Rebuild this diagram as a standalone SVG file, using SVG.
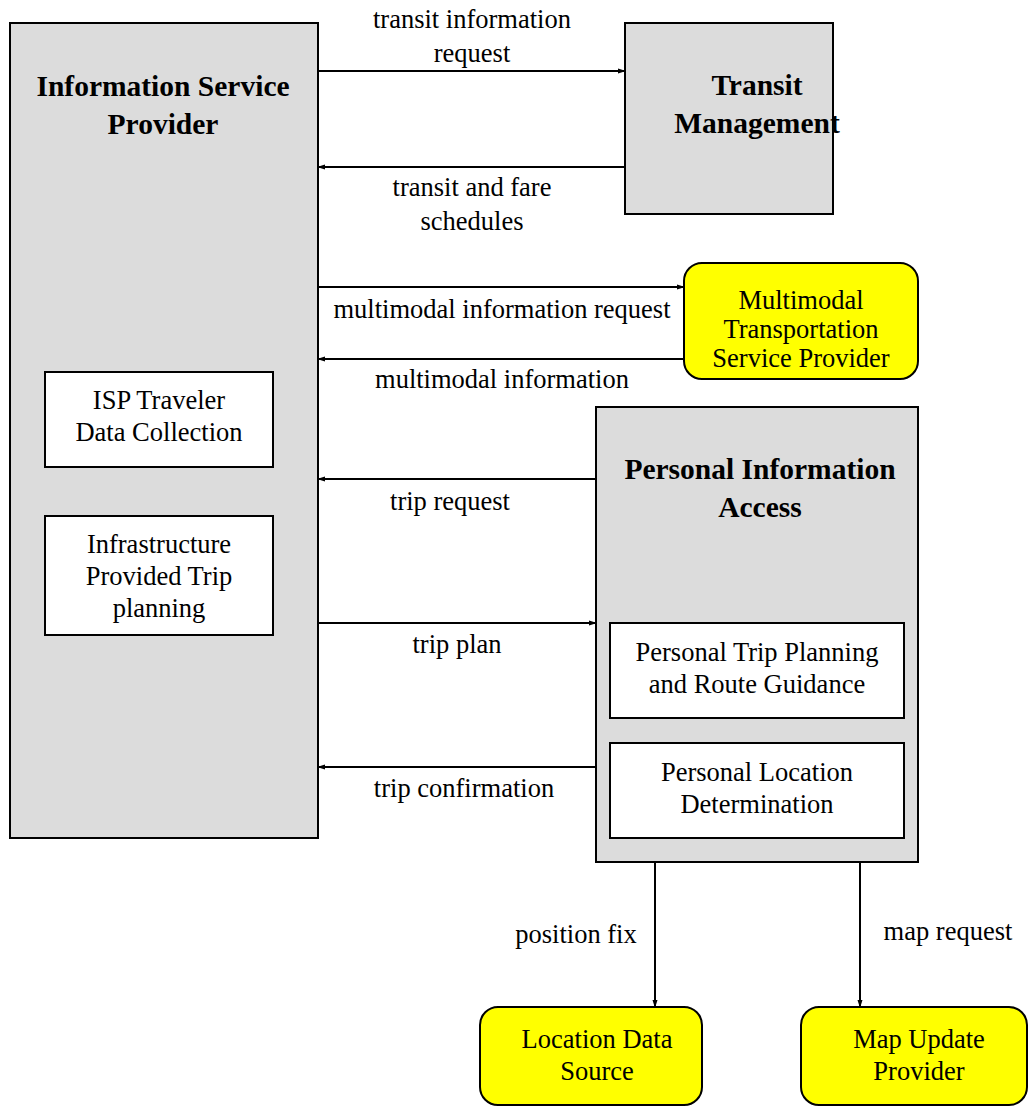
<svg xmlns="http://www.w3.org/2000/svg" width="1029" height="1107" viewBox="0 0 1029 1107">
<style>
.g{fill:#dcdcdc;stroke:#000;stroke-width:2}
.w{fill:#fff;stroke:#000;stroke-width:2}
.y{fill:#ffff00;stroke:#000;stroke-width:2}
text{font-family:"Liberation Serif","Times New Roman",serif;font-size:26.5px;fill:#000;text-anchor:middle}
.b{font-weight:bold;font-size:29.5px}
.c{stroke:#000;stroke-width:2;fill:none;marker-end:url(#ah)}
</style>
<defs>
<marker id="ah" markerWidth="8" markerHeight="6" refX="7" refY="3" orient="auto" markerUnits="userSpaceOnUse">
<path d="M0,0.5 L8,3 L0,5.5 Z" fill="#000"/>
</marker>
</defs>
<rect width="1029" height="1107" fill="#fff"/>
<g id="isp">
<rect class="g" x="10" y="23" width="308" height="815"/>
<text class="b" x="163" y="96">Information Service</text>
<text class="b" x="163" y="134">Provider</text>
</g>
<g id="isp-traveler">
<rect class="w" x="45" y="372" width="228" height="95"/>
<text x="159" y="409">ISP Traveler</text>
<text x="159" y="441">Data Collection</text>
</g>
<g id="infra-trip">
<rect class="w" x="45" y="516" width="228" height="119"/>
<text x="159" y="553">Infrastructure</text>
<text x="159" y="585">Provided Trip</text>
<text x="159" y="617">planning</text>
</g>
<g id="transit">
<rect class="g" x="625" y="23" width="208" height="191"/>
<text class="b" x="757" y="95">Transit</text>
<text class="b" x="757" y="133">Management</text>
</g>
<g id="multimodal">
<rect class="y" x="684" y="263" width="234" height="116" rx="18"/>
<text x="801" y="309">Multimodal</text>
<text x="801" y="338">Transportation</text>
<text x="801" y="367">Service Provider</text>
</g>
<g id="pia">
<rect class="g" x="596" y="407" width="322" height="455"/>
<text class="b" x="760" y="479">Personal Information</text>
<text class="b" x="760" y="517">Access</text>
</g>
<g id="ptp">
<rect class="w" x="610" y="623" width="294" height="95"/>
<text x="757" y="661">Personal Trip Planning</text>
<text x="757" y="693">and Route Guidance</text>
</g>
<g id="pld">
<rect class="w" x="610" y="743" width="294" height="95"/>
<text x="757" y="781">Personal Location</text>
<text x="757" y="813">Determination</text>
</g>
<g id="lds">
<rect class="y" x="480" y="1007" width="222" height="98" rx="18"/>
<text x="597" y="1048">Location Data</text>
<text x="597" y="1080">Source</text>
</g>
<g id="mup">
<rect class="y" x="801" y="1007" width="226" height="98" rx="18"/>
<text x="919" y="1048">Map Update</text>
<text x="919" y="1080">Provider</text>
</g>
<g id="connectors">
<line class="c" x1="319" y1="71" x2="625" y2="71"/>
<line class="c" x1="624" y1="167" x2="318" y2="167"/>
<line class="c" x1="319" y1="287" x2="684" y2="287"/>
<line class="c" x1="683" y1="359" x2="318" y2="359"/>
<line class="c" x1="595" y1="479" x2="318" y2="479"/>
<line class="c" x1="319" y1="623" x2="596" y2="623"/>
<line class="c" x1="595" y1="767" x2="318" y2="767"/>
<line class="c" x1="655" y1="863" x2="655" y2="1007"/>
<line class="c" x1="860" y1="863" x2="860" y2="1007"/>
<text x="472" y="28">transit information</text>
<text x="472" y="62">request</text>
<text x="472" y="196">transit and fare</text>
<text x="472" y="230">schedules</text>
<text x="502" y="318">multimodal information request</text>
<text x="502" y="388">multimodal information</text>
<text x="450" y="510">trip request</text>
<text x="457" y="653">trip plan</text>
<text x="464" y="797">trip confirmation</text>
<text x="576" y="943">position fix</text>
<text x="948" y="940">map request</text>
</g>
</svg>
